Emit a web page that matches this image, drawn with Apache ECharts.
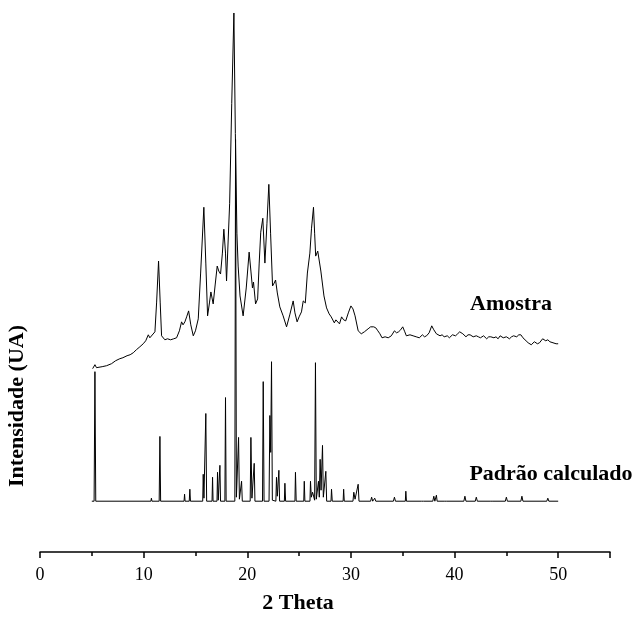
<!DOCTYPE html>
<html>
<head>
<meta charset="utf-8">
<script src="https://cdn.jsdelivr.net/npm/echarts@6/dist/echarts.min.js"></script>
<style>html,body{margin:0;padding:0;background:#fff;}#c{width:642px;height:619px;}</style>
</head>
<body>
<div id="c"></div>
<script>
// Axis ticks
const xTicks = [0, 10, 20, 30, 40, 50];
const xMin = 0, xMax = 55, xStep = 10;
const yMin = 0, yMax = 542;

// Series names
const seriesNames = ['Amostra', 'Padrão calculado'];

// Measured sample pattern (2θ, intensity, offset upward)
const amostra = [
[5.08,184],[5.3,188],[5.45,185],[5.6,185],[6.0,186],[6.43,187],[6.9,189],[7.3,192],[7.7,194],[8.0,195],[8.4,197],[8.7,198],[9.0,200],[9.3,203],[9.64,206],[9.96,209],[10.2,212],[10.45,218],[10.6,215],[10.77,214],[11.09,221],[11.25,250],[11.44,292],[11.6,250],[11.73,217],[12.05,213],[12.3,214],[12.6,213],[12.9,214],[13.18,215],[13.45,222],[13.66,231],[13.8,228],[13.98,231],[14.15,236],[14.34,242],[14.55,228],[14.79,217],[15.0,222],[15.27,234],[15.5,280],[15.81,346],[16.0,290],[16.17,237],[16.35,250],[16.49,261],[16.71,249],[16.9,268],[17.1,287],[17.25,282],[17.42,279],[17.6,300],[17.74,324],[17.9,300],[18.0,272],[18.3,350],[18.5,450],[18.71,541],[18.85,420],[19.0,320],[19.12,287],[19.3,257],[19.6,237],[19.9,265],[20.18,301],[20.35,282],[20.5,265],[20.6,271],[20.8,249],[21.0,254],[21.15,290],[21.3,321],[21.5,335],[21.7,290],[21.9,330],[22.08,369],[22.25,320],[22.44,267],[22.6,270],[22.73,273],[22.9,260],[23.14,246],[23.46,237],[23.79,226],[24.1,238],[24.43,252],[24.6,240],[24.81,231],[25.0,236],[25.23,241],[25.4,252],[25.6,250],[25.8,280],[26.04,300],[26.2,325],[26.39,346],[26.5,320],[26.6,297],[26.8,302],[27.1,282],[27.4,257],[27.65,245],[27.9,239],[28.1,236],[28.4,230],[28.55,233],[28.7,231],[28.9,229],[29.1,236],[29.3,233],[29.5,232],[29.75,240],[30.0,247],[30.2,244],[30.4,237],[30.7,222],[31.0,219],[31.3,221],[31.66,224],[31.9,226],[32.2,226],[32.4,225],[32.6,222],[32.8,219],[33.0,215],[33.3,216],[33.45,214],[33.6,215],[33.9,217],[34.2,222],[34.4,220],[34.6,221],[34.8,223],[35.0,226],[35.2,221],[35.35,217],[35.5,219],[35.7,218],[36.0,217],[36.3,216],[36.6,215],[36.9,218],[37.1,216],[37.3,217],[37.55,220],[37.8,227],[38.0,223],[38.25,219],[38.6,217],[38.8,218],[39.0,216],[39.3,217],[39.5,215],[39.8,218],[40.1,217],[40.3,219],[40.5,221],[40.8,219],[41.1,216],[41.3,218],[41.5,218],[41.8,216],[42.1,217],[42.3,216],[42.5,215],[42.8,217],[43.1,214],[43.3,216],[43.5,216],[43.8,215],[44.0,216],[44.2,214],[44.4,217],[44.7,215],[45.0,216],[45.3,214],[45.5,216],[45.7,217],[46.0,216],[46.2,218],[46.4,218],[46.6,215],[46.9,212],[47.1,210],[47.4,208],[47.7,211],[48.0,209],[48.2,210],[48.5,214],[48.8,212],[49.0,213],[49.2,211],[49.5,210],[49.8,209],[50.0,209]
];

// Calculated pattern (2θ, intensity; baseline 51)
const padrao = [
[5.0,51],[5.22,51],[5.3,181],[5.38,51],
[10.7,51],[10.75,54],[10.8,51],
[11.5,51],[11.57,116],[11.64,51],
[13.9,51],[13.95,58],[14.0,51],
[14.4,51],[14.46,63],[14.52,51],
[15.7,51],[15.75,78],[15.82,54],[15.88,52],[16.0,139],[16.08,51],
[16.6,51],[16.65,75],[16.7,51],
[17.08,51],[17.13,80],[17.2,52],[17.36,87],[17.42,51],
[17.84,51],[17.9,155],[17.96,51],
[18.8,51],[18.87,414],[18.95,55],[19.16,115],[19.24,53],[19.45,71],[19.52,51],
[20.28,51],[20.35,115],[20.45,54],[20.67,89],[20.74,51],
[21.47,51],[21.54,171],[21.62,51],
[22.1,51],[22.18,137],[22.26,100],[22.34,191],[22.42,52],
[22.76,51],[22.82,75],[22.9,56],[23.05,82],[23.12,51],
[23.58,51],[23.63,69],[23.7,51],
[24.6,51],[24.65,80],[24.72,51],
[25.45,51],[25.5,71],[25.56,51],
[26.05,51],[26.1,71],[26.18,55],[26.3,60],[26.5,52],[26.58,190],[26.66,53],
[26.82,51],[26.87,71],[26.95,55],[27.03,93],[27.12,62],[27.26,107],[27.34,55],[27.58,81],[27.66,51],
[28.08,51],[28.13,63],[28.2,51],
[29.25,51],[29.3,63],[29.36,51],
[30.2,51],[30.28,60],[30.4,53],[30.7,68],[30.78,51],
[31.9,51],[32.0,55],[32.1,51],[32.3,54],[32.4,51],
[34.1,51],[34.2,55],[34.3,51],
[35.25,51],[35.3,61],[35.36,51],
[36.8,51],[36.9,53],[37.0,51],
[37.9,51],[38.0,56],[38.1,51],[38.25,57],[38.32,51],
[39.0,51],[39.1,53],[39.2,51],
[40.9,51],[41.0,56],[41.1,51],
[42.0,51],[42.1,55],[42.2,51],
[43.5,51],[43.6,53],[43.7,51],
[44.9,51],[45.0,55],[45.1,51],
[46.4,51],[46.5,56],[46.6,51],
[48.9,51],[49.0,54],[49.1,51],
[50.0,51]
];

const FONT = '"Liberation Serif", "Times New Roman", serif';
const chart = echarts.init(document.getElementById('c'), null, {renderer: 'canvas'});
chart.setOption({
  animation: false,
  backgroundColor: '#fff',
  grid: {left: 40, right: 32, top: 12, bottom: 65, containLabel: false},
  xAxis: {
    type: 'value', min: xMin, max: xMax, interval: xStep,
    name: '2 Theta', nameLocation: 'middle', nameGap: 40,
    nameTextStyle: {fontFamily: FONT, fontWeight: 'bold', fontSize: 22, color: '#000', padding: [0, 54, 0, 0]},
    axisLine: {show: true, lineStyle: {color: '#000', width: 1.5}},
    axisTick: {show: true, inside: false, length: 6, lineStyle: {color: '#000', width: 1.5}},
    minorTick: {show: true, splitNumber: 2, length: 4, lineStyle: {color: '#000', width: 1.5}},
    axisLabel: {fontFamily: FONT, fontSize: 18, color: '#000', margin: 14,
      formatter: v => (xTicks.indexOf(v) >= 0 ? String(v) : '')},
    splitLine: {show: false}
  },
  yAxis: {
    type: 'value', min: yMin, max: yMax, show: false
  },
  graphic: [
    {type: 'text', x: 17, y: 406, rotation: Math.PI / 2,
     style: {text: 'Intensidade (UA)', font: 'bold 22px ' + FONT, fill: '#000', textAlign: 'center', textVerticalAlign: 'middle'}},
    {type: 'text', x: 511, y: 304,
     style: {text: seriesNames[0], font: 'bold 22px ' + FONT, fill: '#000', textAlign: 'center', textVerticalAlign: 'middle'}},
    {type: 'text', x: 551, y: 474,
     style: {text: seriesNames[1], font: 'bold 22px ' + FONT, fill: '#000', textAlign: 'center', textVerticalAlign: 'middle'}}
  ],
  series: [
    {name: seriesNames[0], type: 'line', data: amostra, showSymbol: false, symbol: 'none',
     lineStyle: {color: '#000', width: 1}, z: 2},
    {name: seriesNames[1], type: 'line', data: padrao, showSymbol: false, symbol: 'none',
     lineStyle: {color: '#000', width: 1}, z: 3}
  ]
});
</script>
</body>
</html>
